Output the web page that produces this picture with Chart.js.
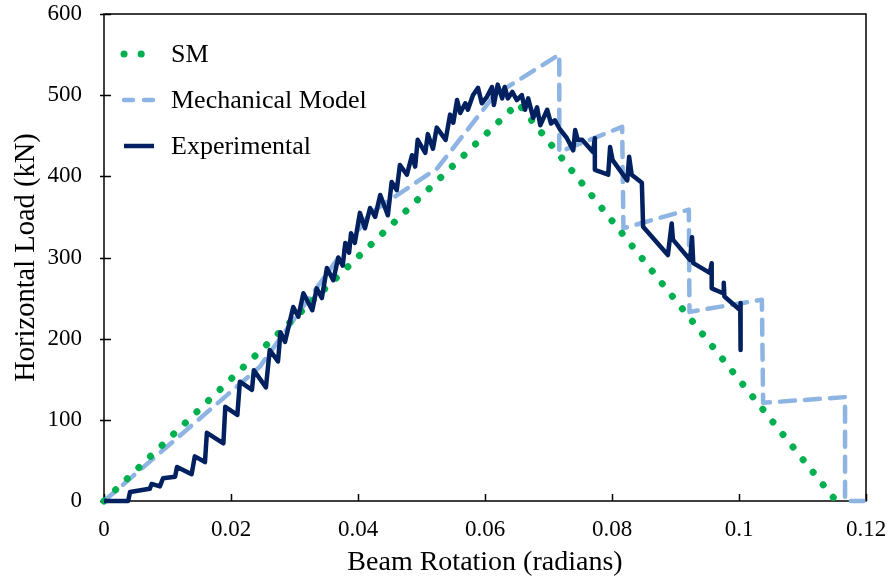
<!DOCTYPE html>
<html>
<head>
<meta charset="utf-8">
<script src="https://cdn.jsdelivr.net/npm/chart.js@4.4.1/dist/chart.umd.min.js"></script>
<style>
  html, body { margin: 0; padding: 0; background: #fff; }
  canvas { display: block; }
</style>
</head>
<body>
<canvas id="chart" width="891" height="579"></canvas>
<script>
// SM (simplified model)
var smX = [0, 0.0652, 0.1153];
var smY = [0, 490, 0];

// Mechanical Model
var mmX = [0, 0.0245, 0.0420, 0.0525, 0.0615, 0.0717, 0.0717, 0.0816, 0.0818, 0.0921, 0.0922, 0.1036, 0.1038, 0.1167, 0.1167, 0.1196];
var mmY = [0, 165, 355, 410, 500, 550, 430, 461, 336, 359, 233, 248, 121, 128, 0, 0];

// Experimental
var expX = [0, 0.0038, 0.0041, 0.0072, 0.0075, 0.0088, 0.0093, 0.0112, 0.0115, 0.0138,
  0.0143, 0.0159, 0.0162, 0.0188, 0.0191, 0.0210, 0.0214, 0.0233, 0.0236, 0.0255,
  0.0261, 0.0274, 0.0278, 0.0285, 0.0298, 0.0306, 0.0314, 0.0328, 0.0335, 0.0343,
  0.0351, 0.0361, 0.0369, 0.0376, 0.0380, 0.0386, 0.0389, 0.0395, 0.0403, 0.0411,
  0.0419, 0.0427, 0.0435, 0.0447, 0.0453, 0.0461, 0.0466, 0.0477, 0.0485, 0.0490,
  0.0494, 0.0506, 0.0510, 0.0518, 0.0524, 0.0538, 0.0545, 0.0550, 0.0556, 0.0561,
  0.0569, 0.0573, 0.0581, 0.0589, 0.0595, 0.0603, 0.0611, 0.0614, 0.0620, 0.0627,
  0.0631, 0.0636, 0.0643, 0.0650, 0.0658, 0.0663, 0.0668, 0.0676, 0.0682, 0.0687,
  0.0698, 0.0704, 0.0710, 0.0718, 0.0729, 0.0739, 0.0742, 0.0746, 0.0753, 0.0770,
  0.0773, 0.0773, 0.0794, 0.0797, 0.0801, 0.0824, 0.0827, 0.0831, 0.0847, 0.0849,
  0.0888, 0.0894, 0.0896, 0.0923, 0.0926, 0.0928, 0.0954, 0.0957, 0.0957, 0.0975,
  0.0976, 0.0977, 0.1002, 0.1003, 0.1002];
var expY = [0, 0, 11, 15, 21, 18, 28, 30, 42, 33,
  55, 48, 84, 71, 116, 106, 147, 137, 161, 140,
  186, 172, 208, 196, 239, 227, 256, 235, 262, 250,
  287, 272, 300, 290, 318, 306, 330, 318, 355, 336,
  361, 350, 377, 352, 393, 383, 414, 402, 426, 412,
  445, 429, 452, 434, 460, 445, 476, 466, 494, 478,
  490, 482, 500, 509, 490, 498, 510, 488, 513, 496,
  510, 496, 504, 494, 500, 482, 496, 472, 485, 463,
  482, 465, 469, 458, 447, 432, 457, 445, 445, 430,
  447, 408, 402, 436, 420, 395, 424, 402, 392, 338,
  303, 342, 322, 297, 325, 293, 281, 293, 262, 256,
  269, 252, 235, 244, 186];

var xTicks = [0, 0.02, 0.04, 0.06, 0.08, 0.1, 0.12];
var yTicks = [0, 100, 200, 300, 400, 500, 600];

function pts(xs, ys) {
  return xs.map(function (x, i) { return { x: x, y: ys[i] }; });
}

var serif = "'Liberation Serif', 'Times New Roman', serif";

// box round the plot and the small tick marks
var frame = {
  id: 'frame',
  beforeDatasetsDraw: function (chart) {
    var ctx = chart.ctx, a = chart.chartArea;
    var x = chart.scales.x, y = chart.scales.y;
    ctx.save();
    ctx.strokeStyle = '#000';
    ctx.lineWidth = 1.5;
    ctx.strokeRect(a.left, a.top, a.right - a.left, a.bottom - a.top);
    ctx.beginPath();
    x.ticks.forEach(function (t) {
      var px = Math.round(x.getPixelForValue(t.value)) + 0.5;
      ctx.moveTo(px, a.bottom);
      ctx.lineTo(px, a.bottom - 7);
    });
    y.ticks.forEach(function (t) {
      var py = Math.round(y.getPixelForValue(t.value)) + 0.5;
      ctx.moveTo(a.left - 4, py);
      ctx.lineTo(a.left + 7, py);
    });
    ctx.stroke();
    ctx.restore();
  }
};

// legend drawn inside the plot, top left
var innerLegend = {
  id: 'innerLegend',
  afterDraw: function (chart) {
    var ctx = chart.ctx;
    var rows = [54, 100, 146];
    ctx.save();
    chart.data.datasets.forEach(function (ds, i) {
      var yy = rows[i];
      ctx.beginPath();
      ctx.strokeStyle = ds.borderColor;
      ctx.lineWidth = ds.borderWidth;
      ctx.lineCap = ds.borderCapStyle || 'butt';
      ctx.setLineDash(ds.legendDash || []);
      ctx.moveTo(124, yy);
      ctx.lineTo(154, yy);
      ctx.stroke();
      ctx.setLineDash([]);
      ctx.fillStyle = '#000';
      ctx.font = '26px ' + serif;
      ctx.textBaseline = 'middle';
      ctx.textAlign = 'left';
      ctx.fillText(ds.label, 171, yy + 1);
    });
    ctx.restore();
  }
};

var ctx = document.getElementById('chart').getContext('2d');
var chart = new Chart(ctx, {
  type: 'line',
  data: {
    datasets: [{
      label: 'SM',
      data: pts(smX, smY),
      borderColor: '#00B050',
      borderWidth: 7,
      borderDash: [0.1, 16],
      borderCapStyle: 'round',
      legendDash: [0.1, 17],
      pointRadius: 0,
      tension: 0,
      clip: false,
      order: 1
    }, {
      label: 'Mechanical Model',
      data: pts(mmX, mmY),
      borderColor: '#8DB4E2',
      borderWidth: 4.5,
      borderDash: [15, 10],
      borderCapStyle: 'round',
      legendDash: [9, 11],
      borderJoinStyle: 'round',
      pointRadius: 0,
      tension: 0,
      clip: false,
      order: 2
    }, {
      label: 'Experimental',
      data: pts(expX, expY),
      borderColor: '#002060',
      borderWidth: 4.5,
      borderJoinStyle: 'round',
      borderCapStyle: 'butt',
      pointRadius: 0,
      tension: 0,
      clip: false,
      order: 0
    }]
  },
  options: {
    responsive: false,
    animation: false,
    events: [],
    layout: { padding: { top: 14, right: 25, left: 0, bottom: 0 } },
    plugins: {
      legend: { display: false },
      tooltip: { enabled: false }
    },
    scales: {
      x: {
        type: 'linear',
        min: 0,
        max: 0.12,
        afterFit: function (s) {
          s.height = 78;
          s.paddingLeft = 0;
          s.paddingRight = 0;
        },
        afterBuildTicks: function (s) {
          s.ticks = xTicks.map(function (v) { return { value: v }; });
        },
        grid: { display: false, drawTicks: false, tickLength: 0 },
        border: { display: false },
        ticks: {
          padding: 15,
          color: '#000',
          font: { family: serif, size: 23 },
          maxRotation: 0,
          callback: function (v) { return String(Number(v.toFixed(2))); }
        },
        title: {
          display: true,
          text: 'Beam Rotation (radians)',
          color: '#000',
          font: { family: serif, size: 28 },
          padding: { top: 0, bottom: 0 }
        }
      },
      y: {
        min: 0,
        max: 600,
        afterFit: function (s) {
          s.width = 104;
          s.paddingTop = 0;
          s.paddingBottom = 0;
        },
        afterBuildTicks: function (s) {
          s.ticks = yTicks.map(function (v) { return { value: v }; });
        },
        grid: { display: false, drawTicks: false, tickLength: 0 },
        border: { display: false },
        ticks: {
          padding: 22,
          color: '#000',
          font: { family: serif, size: 23 }
        },
        title: {
          display: true,
          text: 'Horizontal Load (kN)',
          color: '#000',
          font: { family: serif, size: 28.5 },
          padding: { top: 9, bottom: 0 }
        }
      }
    }
  },
  plugins: [frame, innerLegend]
});
</script>
</body>
</html>
